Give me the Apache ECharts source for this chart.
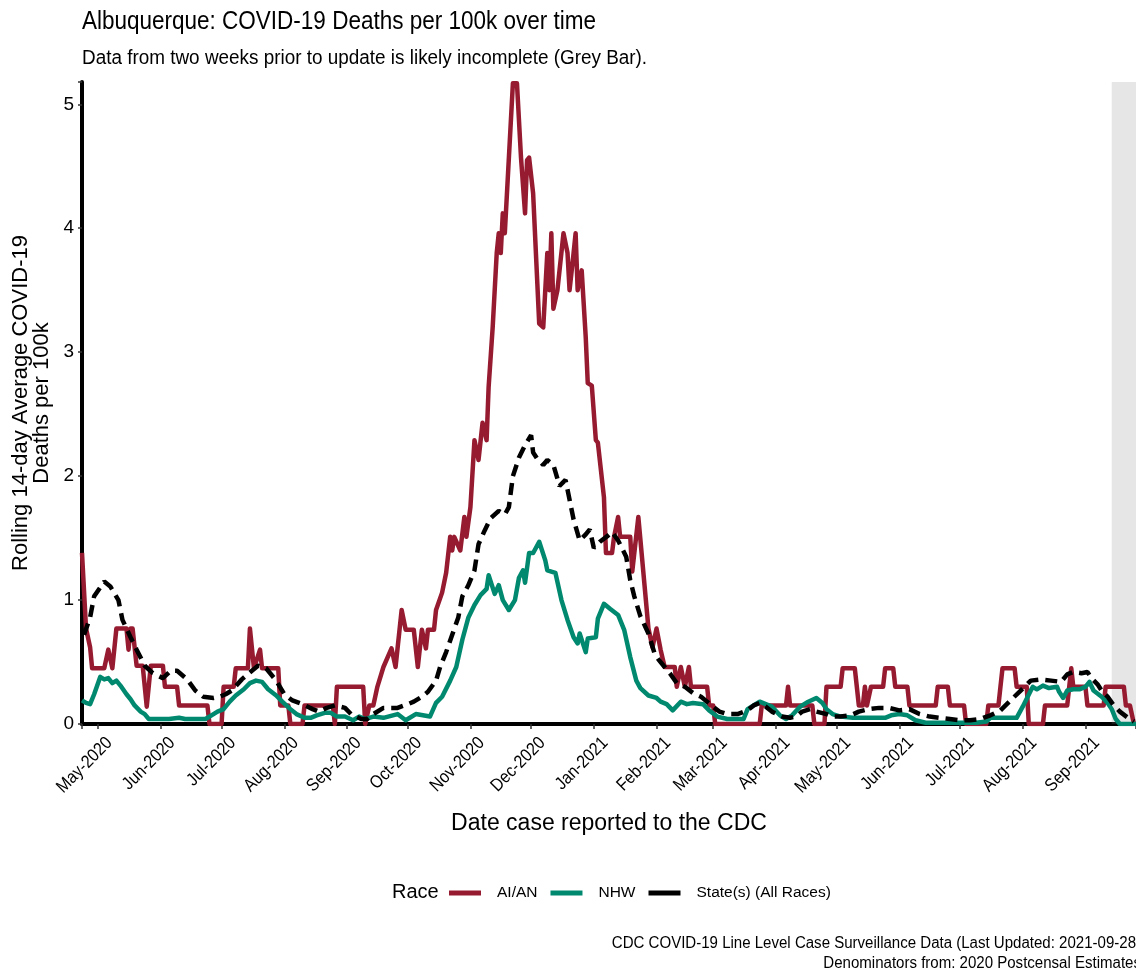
<!DOCTYPE html>
<html>
<head>
<meta charset="utf-8">
<script src="https://cdn.jsdelivr.net/npm/echarts@6/dist/echarts.min.js"></script>
<style>
html,body{margin:0;padding:0;background:#fff;}
#chart{width:1136px;height:974px;}
</style>
</head>
<body>
<div id="chart"></div>
<script>
// ---- Data ----
const aianDates = ['2020-04-23','2020-04-25','2020-04-27','2020-04-28','2020-05-04','2020-05-06','2020-05-08','2020-05-10','2020-05-15','2020-05-16','2020-05-17','2020-05-18','2020-05-20','2020-05-23','2020-05-25','2020-05-27','2020-06-02','2020-06-03','2020-06-09','2020-06-10','2020-06-24','2020-06-25','2020-07-01','2020-07-02','2020-07-07','2020-07-08','2020-07-14','2020-07-15','2020-07-17','2020-07-20','2020-07-21','2020-07-29','2020-07-30','2020-08-03','2020-08-04','2020-08-10','2020-08-11','2020-08-25','2020-08-26','2020-08-27','2020-09-09','2020-09-10','2020-09-12','2020-09-14','2020-09-16','2020-09-19','2020-09-23','2020-09-25','2020-09-28','2020-09-30','2020-10-04','2020-10-06','2020-10-08','2020-10-10','2020-10-11','2020-10-14','2020-10-15','2020-10-18','2020-10-20','2020-10-22','2020-10-23','2020-10-24','2020-10-27','2020-10-29','2020-10-30','2020-11-01','2020-11-03','2020-11-05','2020-11-07','2020-11-09','2020-11-10','2020-11-12','2020-11-14','2020-11-15','2020-11-16','2020-11-17','2020-11-18','2020-11-22','2020-11-24','2020-11-26','2020-11-28','2020-11-29','2020-11-30','2020-12-02','2020-12-05','2020-12-07','2020-12-08','2020-12-09','2020-12-10','2020-12-11','2020-12-12','2020-12-14','2020-12-17','2020-12-19','2020-12-20','2020-12-22','2020-12-23','2020-12-24','2020-12-26','2020-12-28','2020-12-29','2020-12-31','2021-01-02','2021-01-03','2021-01-06','2021-01-07','2021-01-10','2021-01-11','2021-01-13','2021-01-14','2021-01-19','2021-01-20','2021-01-23','2021-01-28','2021-01-30','2021-02-01','2021-02-03','2021-02-05','2021-02-10','2021-02-11','2021-02-13','2021-02-15','2021-02-17','2021-02-18','2021-02-26','2021-02-27','2021-03-01','2021-03-02','2021-03-24','2021-03-25','2021-04-06','2021-04-07','2021-04-08','2021-04-19','2021-04-20','2021-04-25','2021-04-26','2021-05-03','2021-05-04','2021-05-10','2021-05-11','2021-05-12','2021-05-14','2021-05-15','2021-05-16','2021-05-18','2021-05-24','2021-05-25','2021-05-29','2021-05-30','2021-06-05','2021-06-06','2021-06-19','2021-06-20','2021-06-25','2021-06-26','2021-07-03','2021-07-04','2021-07-14','2021-07-15','2021-07-20','2021-07-21','2021-07-22','2021-07-28','2021-07-29','2021-08-03','2021-08-04','2021-08-11','2021-08-12','2021-08-23','2021-08-24','2021-08-25','2021-08-26','2021-09-01','2021-09-02','2021-09-10','2021-09-11','2021-09-20','2021-09-21','2021-09-23','2021-09-25'];
const aianValues = [1.38,0.77,0.62,0.45,0.45,0.60,0.45,0.77,0.77,0.60,0.77,0.77,0.47,0.47,0.14,0.47,0.47,0.30,0.30,0.15,0.15,0,0,0.30,0.30,0.45,0.45,0.77,0.45,0.60,0.45,0.45,0.15,0.15,0,0,0.15,0.15,0,0.30,0.30,0,0.15,0.15,0.30,0.46,0.61,0.46,0.92,0.76,0.76,0.46,0.76,0.61,0.76,0.76,0.92,1.06,1.22,1.51,1.40,1.51,1.40,1.67,1.51,1.75,2.29,2.13,2.43,2.29,2.72,3.20,3.80,3.96,3.80,4.12,3.96,5.17,5.17,4.57,4.12,4.55,4.57,4.28,3.23,3.20,3.50,3.80,3.50,3.96,3.35,3.50,3.96,3.80,3.50,3.80,3.96,3.50,3.66,3.12,2.75,2.73,2.29,2.27,1.83,1.38,1.38,1.51,1.67,1.51,1.51,1.23,1.67,0.77,0.62,0.77,0.60,0.46,0.46,0.30,0.46,0.30,0.46,0.30,0.30,0.15,0.15,0,0,0.15,0.15,0.30,0.15,0.15,0,0,0.30,0.30,0.45,0.45,0.30,0.15,0.15,0.30,0.15,0.30,0.30,0.45,0.45,0.30,0.30,0.15,0.15,0.30,0.30,0.15,0.15,0,0,0.15,0.15,0.30,0.45,0.45,0.30,0.30,0,0,0.15,0.15,0.30,0.45,0.30,0.30,0.15,0.15,0.30,0.30,0.15,0.15,0];

const nhwDates = ['2020-04-23','2020-04-25','2020-04-27','2020-04-29','2020-05-02','2020-05-04','2020-05-06','2020-05-08','2020-05-10','2020-05-12','2020-05-15','2020-05-17','2020-05-19','2020-05-22','2020-05-24','2020-05-26','2020-06-05','2020-06-10','2020-06-13','2020-06-23','2020-06-26','2020-06-29','2020-07-02','2020-07-05','2020-07-08','2020-07-12','2020-07-15','2020-07-18','2020-07-21','2020-07-24','2020-07-28','2020-07-31','2020-08-04','2020-08-07','2020-08-11','2020-08-14','2020-08-17','2020-08-21','2020-08-24','2020-08-27','2020-08-31','2020-09-04','2020-09-07','2020-09-10','2020-09-14','2020-09-19','2020-09-26','2020-09-30','2020-10-05','2020-10-12','2020-10-15','2020-10-18','2020-10-22','2020-10-25','2020-10-28','2020-10-31','2020-11-03','2020-11-06','2020-11-09','2020-11-10','2020-11-13','2020-11-15','2020-11-17','2020-11-20','2020-11-23','2020-11-25','2020-11-27','2020-11-28','2020-11-30','2020-12-02','2020-12-05','2020-12-08','2020-12-09','2020-12-13','2020-12-16','2020-12-19','2020-12-22','2020-12-24','2020-12-25','2020-12-28','2020-12-29','2021-01-02','2021-01-03','2021-01-06','2021-01-09','2021-01-13','2021-01-16','2021-01-19','2021-01-22','2021-01-24','2021-01-28','2021-02-01','2021-02-03','2021-02-06','2021-02-09','2021-02-13','2021-02-16','2021-02-19','2021-02-24','2021-02-27','2021-03-03','2021-03-08','2021-03-16','2021-03-18','2021-03-21','2021-03-24','2021-03-27','2021-03-30','2021-04-03','2021-04-06','2021-04-09','2021-04-13','2021-04-17','2021-04-21','2021-04-24','2021-04-26','2021-04-29','2021-05-03','2021-05-09','2021-05-25','2021-05-28','2021-06-01','2021-06-05','2021-06-09','2021-06-14','2021-07-09','2021-07-14','2021-07-16','2021-07-29','2021-08-01','2021-08-05','2021-08-06','2021-08-08','2021-08-11','2021-08-14','2021-08-18','2021-08-19','2021-08-21','2021-08-23','2021-08-26','2021-08-29','2021-09-01','2021-09-03','2021-09-05','2021-09-09','2021-09-12','2021-09-14','2021-09-16','2021-09-18','2021-09-26'];
const nhwValues = [0.19,0.17,0.16,0.24,0.38,0.36,0.37,0.33,0.35,0.31,0.24,0.20,0.15,0.10,0.08,0.04,0.04,0.05,0.04,0.04,0.07,0.10,0.12,0.18,0.23,0.28,0.33,0.35,0.34,0.28,0.23,0.18,0.12,0.08,0.05,0.05,0.07,0.09,0.09,0.06,0.06,0.03,0.06,0.04,0.06,0.05,0.08,0.03,0.08,0.06,0.17,0.22,0.35,0.46,0.68,0.86,0.96,1.04,1.09,1.20,1.05,1.12,1.00,0.92,1.00,1.18,1.24,1.14,1.38,1.38,1.47,1.32,1.24,1.22,1.00,0.84,0.70,0.65,0.73,0.58,0.69,0.70,0.85,0.97,0.93,0.88,0.76,0.54,0.35,0.29,0.23,0.21,0.18,0.16,0.11,0.18,0.16,0.17,0.16,0.11,0.06,0.04,0.04,0.12,0.15,0.18,0.16,0.14,0.07,0.04,0.07,0.14,0.18,0.21,0.17,0.12,0.08,0.06,0.05,0.05,0.07,0.08,0.07,0.03,0.01,0.01,0.02,0.05,0.05,0.14,0.27,0.30,0.28,0.31,0.29,0.30,0.26,0.21,0.27,0.28,0.28,0.30,0.34,0.27,0.22,0.17,0.12,0.04,0.00,0.00];

const stateDates = ['2020-04-24','2020-04-27','2020-04-29','2020-05-04','2020-05-07','2020-05-11','2020-05-13','2020-05-17','2020-05-20','2020-05-24','2020-05-28','2020-06-02','2020-06-06','2020-06-09','2020-06-14','2020-06-18','2020-06-22','2020-06-27','2020-06-30','2020-07-03','2020-07-06','2020-07-11','2020-07-16','2020-07-19','2020-07-23','2020-07-28','2020-08-01','2020-08-05','2020-08-10','2020-08-15','2020-08-18','2020-08-22','2020-08-26','2020-08-31','2020-09-03','2020-09-08','2020-09-11','2020-09-14','2020-09-19','2020-09-26','2020-10-01','2020-10-04','2020-10-08','2020-10-11','2020-10-15','2020-10-17','2020-10-20','2020-10-23','2020-10-26','2020-10-28','2020-10-31','2020-11-03','2020-11-05','2020-11-08','2020-11-11','2020-11-15','2020-11-18','2020-11-20','2020-11-22','2020-11-25','2020-11-28','2020-12-01','2020-12-02','2020-12-04','2020-12-07','2020-12-09','2020-12-12','2020-12-14','2020-12-15','2020-12-18','2020-12-20','2020-12-22','2020-12-25','2020-12-28','2020-12-30','2021-01-01','2021-01-04','2021-01-08','2021-01-10','2021-01-13','2021-01-17','2021-01-19','2021-01-21','2021-01-24','2021-01-28','2021-01-31','2021-02-02','2021-02-05','2021-02-08','2021-02-11','2021-02-15','2021-02-19','2021-02-23','2021-02-26','2021-03-01','2021-03-04','2021-03-08','2021-03-13','2021-03-18','2021-03-21','2021-03-24','2021-03-27','2021-03-30','2021-04-04','2021-04-08','2021-04-11','2021-04-14','2021-04-18','2021-04-21','2021-04-26','2021-04-29','2021-05-03','2021-05-08','2021-05-12','2021-05-17','2021-05-22','2021-05-27','2021-06-01','2021-06-06','2021-06-11','2021-06-16','2021-06-21','2021-06-26','2021-07-01','2021-07-06','2021-07-11','2021-07-16','2021-07-21','2021-07-26','2021-07-31','2021-08-05','2021-08-10','2021-08-15','2021-08-20','2021-08-23','2021-08-26','2021-08-30','2021-09-02','2021-09-04','2021-09-07','2021-09-09','2021-09-12','2021-09-15','2021-09-18','2021-09-22','2021-09-25'];
const stateValues = [0.72,0.86,1.03,1.15,1.11,1.00,0.84,0.70,0.60,0.47,0.41,0.37,0.43,0.43,0.36,0.27,0.22,0.21,0.22,0.24,0.27,0.36,0.43,0.47,0.45,0.35,0.24,0.19,0.16,0.12,0.10,0.13,0.15,0.13,0.08,0.04,0.04,0.08,0.13,0.13,0.16,0.18,0.22,0.26,0.35,0.46,0.58,0.72,0.86,1.03,1.12,1.24,1.45,1.56,1.66,1.72,1.69,1.75,2.00,2.15,2.25,2.33,2.19,2.14,2.09,2.13,2.09,1.98,1.92,1.97,1.81,1.65,1.48,1.53,1.57,1.42,1.47,1.52,1.55,1.48,1.35,1.16,1.03,0.87,0.73,0.57,0.52,0.46,0.40,0.33,0.30,0.25,0.22,0.18,0.14,0.10,0.08,0.08,0.11,0.15,0.17,0.14,0.10,0.06,0.05,0.06,0.10,0.12,0.10,0.08,0.06,0.06,0.07,0.10,0.12,0.13,0.13,0.11,0.12,0.08,0.06,0.05,0.04,0.03,0.03,0.04,0.07,0.11,0.19,0.27,0.35,0.36,0.35,0.34,0.40,0.42,0.41,0.42,0.37,0.32,0.27,0.22,0.15,0.10,0.05,0.02];

const yTicks = [0, 1, 2, 3, 4, 5];
const monthTicks = ['2020-05-01','2020-06-01','2020-07-01','2020-08-01','2020-09-01','2020-10-01','2020-11-01','2020-12-01','2021-01-01','2021-02-01','2021-03-01','2021-04-01','2021-05-01','2021-06-01','2021-07-01','2021-08-01','2021-09-01'];
const monthLabels = ['May-2020','Jun-2020','Jul-2020','Aug-2020','Sep-2020','Oct-2020','Nov-2020','Dec-2020','Jan-2021','Feb-2021','Mar-2021','Apr-2021','May-2021','Jun-2021','Jul-2021','Aug-2021','Sep-2021'];
const seriesNames = ['AI/AN', 'NHW', 'State(s) (All Races)'];
const incompleteStart = '2021-09-14';
const xStart = '2020-04-23';
const xEnd = '2021-09-26';

function zip(d, v) { return d.map((x, i) => [x, v[i]]); }

const FONT = "'Liberation Sans Narrow','Arial Narrow','Liberation Sans',Arial,sans-serif";
const RED = '#961b30', GREEN = '#00896f', BLACK = '#000000';

const chart = echarts.init(document.getElementById('chart'), null, {renderer: 'canvas'});
chart.setOption({
  animation: false,
  backgroundColor: '#ffffff',
  textStyle: {fontFamily: FONT},
  grid: {left: 82, right: 0, top: 82, bottom: 250, containLabel: false, outerBoundsMode: 'none'},
  xAxis: {
    type: 'time', min: xStart, max: xEnd,
    splitNumber: 18, minInterval: 28 * 86400000, maxInterval: 31 * 86400000,
    name: 'Date case reported to the CDC', nameLocation: 'middle', nameGap: 88,
    nameTextStyle: {fontFamily: FONT, fontSize: 23, color: '#000'},
    axisLine: {show: true, lineStyle: {color: '#000', width: 4}},
    axisTick: {show: true, length: 5, lineStyle: {color: '#333', width: 1.5}},
    splitLine: {show: false},
    axisLabel: {show: false}
  },
  yAxis: {
    type: 'value', min: 0, max: 5.18, interval: 1,
    name: 'Rolling 14-day Average COVID-19\nDeaths per 100k', nameLocation: 'middle', nameGap: 23, nameRotate: 90,
    nameTextStyle: {fontFamily: FONT, fontSize: 22, color: '#000', lineHeight: 21},
    axisLine: {show: true, lineStyle: {color: '#000', width: 4}},
    axisTick: {show: true, length: 4, lineStyle: {color: '#333', width: 1.5}},
    splitLine: {show: false},
    axisLabel: {fontSize: 19, color: '#000', fontFamily: FONT, margin: 8,
      formatter: function (v) { return yTicks.indexOf(v) >= 0 ? String(v) : ''; }}
  },
  legend: {
    data: seriesNames, left: 449, top: 885, padding: 0, icon: 'rect', itemWidth: 32, itemHeight: 5, itemGap: 13,
    textStyle: {fontFamily: FONT, fontSize: 15.5, color: '#000', padding: [0, 0, 0, 11]}
  },
  series: [
    {name: seriesNames[0], type: 'line', data: zip(aianDates, aianValues), showSymbol: false, symbol: 'none', z: 2,
      lineStyle: {color: RED, width: 4.5, join: 'round'}, itemStyle: {color: RED}},
    {name: seriesNames[1], type: 'line', data: zip(nhwDates, nhwValues), showSymbol: false, symbol: 'none', z: 3,
      lineStyle: {color: GREEN, width: 4.5, join: 'round'}, itemStyle: {color: GREEN}},
    {name: seriesNames[2], type: 'line', data: zip(stateDates, stateValues), showSymbol: false, symbol: 'none', z: 4,
      lineStyle: {color: BLACK, width: 4.5, type: [12, 7], cap: 'butt'}, itemStyle: {color: BLACK}},
    {name: 'incomplete', type: 'line', data: [], z: 10, silent: true,
      markArea: {silent: true, itemStyle: {color: 'rgba(128,128,128,0.2)'},
        data: [[{xAxis: incompleteStart}, {xAxis: xEnd}]]}}
  ]
});

// Text elements; x-axis month labels positioned through the axis scale
const axisY = chart.convertToPixel({yAxisIndex: 0}, 0);
const graphics = [
  {type: 'text', x: 82, y: 22, scaleX: 0.9,
    style: {text: 'Albuquerque: COVID-19 Deaths per 100k over time', font: '25px ' + FONT, fill: '#000', textAlign: 'left', textVerticalAlign: 'middle'}},
  {type: 'text', x: 82, y: 58, scaleX: 0.945,
    style: {text: 'Data from two weeks prior to update is likely incomplete (Grey Bar).', font: '20px ' + FONT, fill: '#000', textAlign: 'left', textVerticalAlign: 'middle'}},
  {type: 'text', x: 392, y: 892,
    style: {text: 'Race', font: '20px ' + FONT, fill: '#000', textAlign: 'left', textVerticalAlign: 'middle'}},
  {type: 'text', x: 1141, y: 944, scaleX: 0.94,
    style: {text: 'CDC COVID-19 Line Level Case Surveillance Data (Last Updated: 2021-09-28)', font: '16px ' + FONT, fill: '#000', textAlign: 'right', textVerticalAlign: 'middle'}},
  {type: 'text', x: 1141, y: 964, scaleX: 0.94,
    style: {text: 'Denominators from: 2020 Postcensal Estimates', font: '16px ' + FONT, fill: '#000', textAlign: 'right', textVerticalAlign: 'middle'}}
];
monthTicks.forEach(function (d, i) {
  const px = chart.convertToPixel({xAxisIndex: 0}, d);
  graphics.push({type: 'text', x: px + 5, y: axisY + 10, rotation: Math.PI / 4, scaleX: 0.88,
    style: {text: monthLabels[i], font: '18px ' + FONT, fill: '#000', textAlign: 'right', textVerticalAlign: 'top'}});
});
chart.setOption({graphic: graphics});
</script>
</body>
</html>
